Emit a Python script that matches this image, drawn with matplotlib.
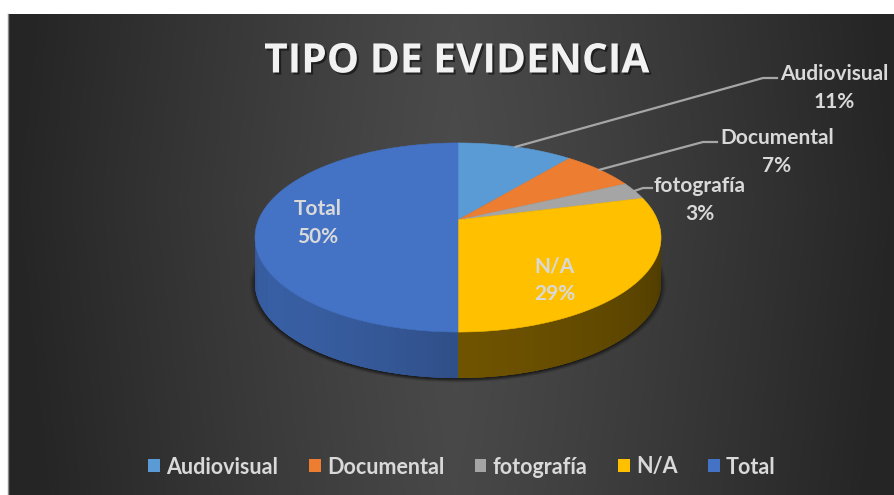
import numpy as np
import matplotlib.pyplot as plt
import matplotlib.patheffects as pe
from matplotlib.patches import Polygon, Patch
from matplotlib.colors import to_rgb

# evidence types and their share of the total (%)
labels = ["Audiovisual", "Documental", "fotografía", "N/A", "Total"]
shares = [11, 7, 3, 29, 50]
colors = ["#5B9BD5", "#ED7D31", "#A5A5A5", "#FFC000", "#4472C4"]

W, H = 895, 495

# pie geometry in pixel units (perspective tilt)
CX, CY = 458, 220
RX, SY, K = 199.5, 91.3, 0.185
DEPTH = 46

# side wall shading per colour: factor = c0 + c1*cos(phi - 215deg)
side_shade = {"#FFC000": (0.383, 0.093), "#4472C4": (0.50, 0.33)}

# text placement for the data labels
outside_pos = {"Audiovisual": (834, 88, (763, 78), (777, 78)),
               "Documental": (777, 152, (703, 142), (717, 142)),
               "fotografía": (700, 200, (643, 188), (652, 188))}
inside_pos = {"Total": (318, 223), "N/A": (555, 280)}


def project(phi, r=1.0, drop=0.0):
    u = r * np.cos(phi)
    w = r * np.sin(phi)
    d = 1 + K * w
    return CX + RX * u / d, CY - SY * w / d + drop


fig = plt.figure(figsize=(W / 100, H / 100), dpi=100, facecolor="white")
ax = fig.add_axes([0, 0, 1, 1])
ax.set_xlim(0, W)
ax.set_ylim(H, 0)
ax.axis("off")

# dark background, lighter down the middle
xx, yy = np.meshgrid(np.linspace(9, W, 400), np.linspace(14, H, 200))
dx = np.abs(xx - 455) / 447
dy = np.abs(yy - 200) / 300
v = 0x4b - (0x4b - 0x25) * np.clip(dx ** 1.15 + 0.08 * dy, 0, 1)
bg = np.dstack([v, v, v]) / 255
ax.imshow(bg, extent=[9, W, H, 14], aspect="auto", zorder=0, interpolation="bilinear")
ax.plot([8.5, 8.5], [14, H], color="#8a8a8a", lw=1, zorder=1)

# soft shadow round the base
sx, sy = np.meshgrid(np.linspace(200, 720, 300), np.linspace(170, 420, 160))
r = np.sqrt(((sx - CX) / 204) ** 2 + ((sy - 285) / 95.5) ** 2)
alpha = 0.6 * np.clip(1 - (r - 0.99) / 0.035, 0, 1)
shadow = np.zeros(sx.shape + (4,))
shadow[..., 3] = alpha
ax.imshow(shadow, extent=[200, 720, 420, 170], aspect="auto", zorder=1, interpolation="bilinear")

bounds = 90 - 360 * np.concatenate([[0], np.cumsum(shares)]) / sum(shares)

# side walls of the front half, drawn as thin shaded strips
for i, col in enumerate(colors):
    a0, a1 = np.radians(bounds[i]), np.radians(bounds[i + 1])
    c0, c1 = side_shade.get(col, (0.5, 0.2))
    base = np.array(to_rgb(col))
    phis = np.linspace(a0, a1, 4 * max(int(abs(bounds[i] - bounds[i + 1])), 1) + 1)
    vis = np.sin(phis) <= -K
    if vis.sum() < 2:
        continue
    phis = phis[vis]
    step = np.sign(a1 - a0) * np.radians(0.6)
    for j, (p, q) in enumerate(zip(phis[:-1], phis[1:])):
        q2 = q + step if j < len(phis) - 2 else q
        f = c0 + c1 * np.cos((p + q) / 2 - np.radians(215))
        arc = np.linspace(p, q2, 3)
        top = [project(a) for a in arc]
        quad = top + [(x, y + DEPTH) for x, y in top[::-1]]
        ax.add_patch(Polygon(quad, closed=True, facecolor=np.clip(base * f, 0, 1),
                             edgecolor="none", lw=0, zorder=2))

# top faces
for i, col in enumerate(colors):
    phis = np.radians(np.linspace(bounds[i], bounds[i + 1], 120))
    pts = [(CX, CY)] + [project(p) for p in phis]
    ax.add_patch(Polygon(pts, closed=True, facecolor=col, edgecolor=col, lw=0.4, zorder=3))

txt = "#d9d9d9"
font = ["Lato", "DejaVu Sans"]

for i, name in enumerate(labels):
    mid = np.radians((bounds[i] + bounds[i + 1]) / 2)
    s = f"{name}\n{shares[i]}%"
    if name in outside_pos:
        tx, ty, elbow, end = outside_pos[name]
        sx0, sy0 = project(mid)
        ax.plot([sx0, elbow[0], end[0]], [sy0, elbow[1], end[1]], color="#a6a6a6", lw=1.6, zorder=4)
    else:
        tx, ty = inside_pos[name]
    ax.text(tx, ty, s, ha="center", va="center", color=txt, fontsize=15, family=font,
            weight="bold", linespacing=1.45, zorder=5)

ax.text(457, 62, "TIPO DE EVIDENCIA", ha="center", va="center", color="#f2f2f2",
        fontsize=29.3, family=["Open Sans", "DejaVu Sans"], weight="bold", zorder=5,
        path_effects=[pe.withSimplePatchShadow(offset=(1.5, -1.5), shadow_rgbFace="black", alpha=0.5)])

handles = [Patch(facecolor=c, edgecolor="none") for c in colors]
leg = fig.legend(handles, labels, loc="center", bbox_to_anchor=(462 / W, 1 - 467 / H), ncol=5,
                 frameon=False, handlelength=0.55, handleheight=0.55,
                 handletextpad=0.3, columnspacing=1.4, labelcolor=txt,
                 prop={"family": font, "weight": "bold", "size": 15.5})

fig.savefig("out.png", dpi=100, facecolor="white")
